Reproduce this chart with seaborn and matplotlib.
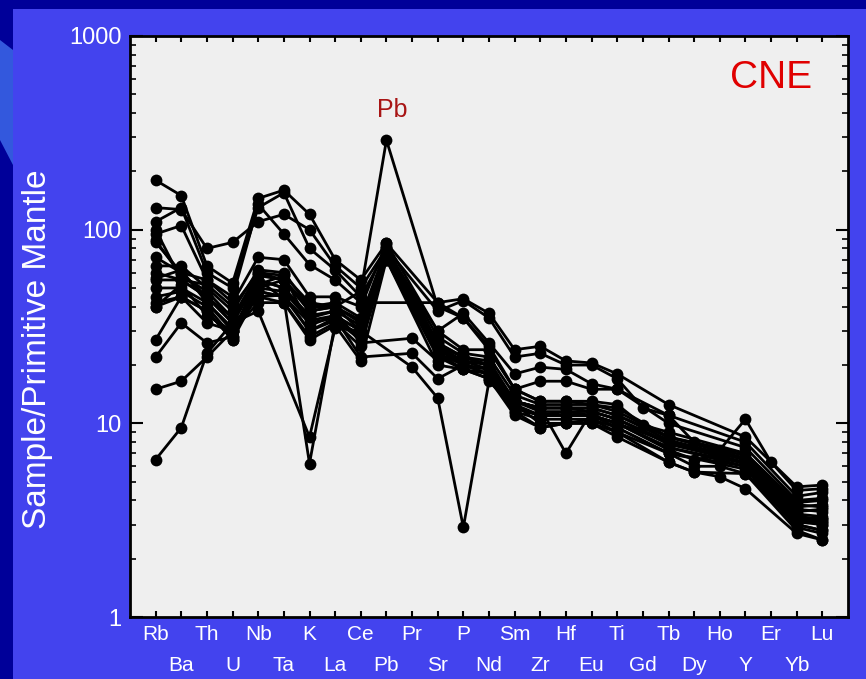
import numpy as np
import pandas as pd
import matplotlib
matplotlib.use("Agg")
import matplotlib.pyplot as plt
import seaborn as sns
from matplotlib.patches import Rectangle, Polygon
from matplotlib.ticker import LogLocator, NullFormatter

nan = np.nan
elements = ["Rb", "Ba", "Th", "U", "Nb", "Ta", "K", "La", "Ce", "Pb", "Pr", "Sr", "P", "Nd",
            "Sm", "Zr", "Hf", "Eu", "Ti", "Gd", "Tb", "Dy", "Ho", "Y", "Er", "Yb", "Lu"]

#      Rb   Ba   Th  U    Nb   Ta   K    La  Ce  Pb   Pr   Sr  P   Nd  Sm  Zr   Hf   Eu   Ti   Gd   Tb   Dy   Ho   Y    Er   Yb   Lu
U1 = [180, 150, 65, 53, 145, 160, 120, 70, 55, 85, nan, 42, 44, 37, 24, 25, 21, 20.5, 18, nan, 12.5, nan, nan, 8.5, nan, 4.7, 4.8]
U2 = [130, 127, 80, 86, 110, 120, 100, 65, 50, 80, nan, 38, 43, 35, 22, 23, 20, 20, 17, 12, 11, 8, 7.3, 10.5, 6.3, 4.5, 4.6]
U3 = [110, 130, 60, 50, 130, 155, 80, 62, 45, 78, nan, 30, 37, 26, 18, 19.5, 19, 16, 15, nan, 11, nan, nan, 8, nan, 4.2, 4.4]
U4 = [95, 105, 55, 45, 135, 95, 66, 55, 42, nan, nan, 42, 35, 24, 15, 16.5, 16.5, 15, 15, nan, 10, nan, nan, 7.5, nan, 4.0, 4.1]
M1 = [72, 60, 55, 42, 72, 70, 45, 45, 40, 85, nan, 30, 24, 24, 15, 13, 13, 13, 12.5, 9.8, 9, nan, nan, 7, nan, 3.9, 4.0]
M2 = [65, 65, 50, 38, 62, 60, 40, 42, 35, 80, nan, 28, 23, 22, 14, 12.5, 12.5, 12.5, 12, nan, 8.5, nan, nan, 6.8, nan, 3.7, 3.8]
M3 = [55, 55, 45, 33, 58, 55, 38, 40, 33, 78, nan, 26, 22, 21, 13, 12, 12, 12, 11, nan, 8.2, nan, nan, 6.5, nan, 3.5, 3.6]
M4 = [50, 50, 42, 30, 55, 50, 36, 38, 32, 75, nan, 25, 21, 20, 13, 11.5, 11.5, 11.5, 10.5, nan, 8, nan, nan, 6.5, nan, 3.4, 3.3]
M5 = [45, 48, 40, 28, 50, 48, 34, 36, 30, 75, nan, 24, 20, 19, 12, 11, 11, 11, 10, nan, 7.5, nan, nan, 6.2, nan, 3.2, 3.1]
M6 = [42, 45, 38, 27, 48, 45, 33, 35, 28, 72, nan, 23, 20, 18, 12, 11, 11, 11, 10, nan, 7.3, 6.5, 6.8, 6.2, nan, 3.1, 3.0]
M7 = [40, 52, 36, 30, 45, 46, 30, 34, 27, 70, nan, 22, 19, 18, 11.5, 10.5, 10.5, 10.5, 9.5, nan, 7, nan, nan, 6, nan, 3.0, 2.8]
M8 = [88, 58, 48, 35, 52, 58, 32, 36, 30, 82, nan, 26, 22, 20, 12.5, 10, 10, 10.5, 9, nan, 7, nan, nan, 5.8, nan, 2.9, 2.7]
M9 = [56, 62, 42, 31, 45, 42, 28, 33, 25, 72, nan, 23, 19, 17, 11.5, 9.5, 10, 10, 8.5, nan, 6.3, 5.6, nan, 5.5, nan, 2.8, 2.5]
M10 = [100, 55, 52, 40, 60, 58, 42, 40, 34, 70, nan, 25, 20, 19, 13, 12, 12, 12, 11, nan, 8.5, nan, nan, 6.6, nan, 3.6, 3.5]
S1 = [86, 60, 45, 33, 38, nan, 8.5, 31, 30, 75, nan, 24, 21, 19, 12.5, 11, 11, 11, 10, nan, 8, nan, nan, 6.5, nan, 3.3, 3.2]
S2 = [40, 45, 38, 27, 55, 44, 6.2, 33, 29, 78, nan, 25, 22, 20, 13, 12, 12, 11.5, 10.5, nan, 7.8, nan, nan, 6.3, nan, 3.3, 3.1]
S3 = [60, 55, 45, 35, 60, 55, 40, 40, 48, 290, nan, 40, 35, 25, 15, 13, 13, 12.5, 11.5, nan, 8.5, nan, nan, 7, nan, 3.8, 3.7]
S4 = [15, 16.5, 22, 30, 50, 55, 38, 40, 30, nan, 19.5, 13.5, 2.9, 16.5, 12, 11, 11, 11, 10, nan, 7.5, nan, nan, 6, nan, 3.2, 3.0]
S5 = [6.5, 9.5, 23, 33, 55, 50, 35, 38, 26, nan, 27.5, 21, 22, 20, 13, 12, 7, 11.5, 10.5, nan, 8, nan, nan, 6.2, nan, 3.3, 3.2]
S6 = [22, 33, 26, 28, 48, 45, 30, 35, 22, nan, 23, 17, 20, 18, 12, 11, 11.5, 11, 9.5, nan, 7, 6, 6, 5.5, nan, 3.0, 2.8]
S7 = [27, 45, 33, 30, 42, 42, 27, 32, 21, 70, nan, 20, 19, 17, 11, 9.5, 10, 10, 9, nan, 6.3, 5.6, 5.3, 4.6, nan, 2.7, 2.5]

samples = {"U1": U1, "U2": U2, "U3": U3, "U4": U4, "M1": M1, "M2": M2, "M3": M3, "M4": M4,
           "M5": M5, "M6": M6, "M7": M7, "M8": M8, "M9": M9, "M10": M10, "S1": S1, "S2": S2,
           "S3": S3, "S4": S4, "S5": S5, "S6": S6, "S7": S7}

rows = []
for name, vals in samples.items():
    for i, v in enumerate(vals):
        if not np.isnan(v):
            rows.append((name, i, elements[i], v))
df = pd.DataFrame(rows, columns=["sample", "pos", "element", "value"])

sns.set_theme(style="ticks")
plt.rcParams["font.family"] = ["Liberation Sans", "DejaVu Sans"]

W, H = 866, 679
fig = plt.figure(figsize=(W / 100, H / 100), dpi=100, facecolor="#4343ee")
# slide decoration
fig.patches.append(Rectangle((0, 1 - 9 / H), 1, 9 / H, transform=fig.transFigure,
                             facecolor="#000099", edgecolor="none", zorder=0))
fig.patches.append(Rectangle((0, 0), 13 / W, 1, transform=fig.transFigure,
                             facecolor="#000099", edgecolor="none", zorder=0))
fig.patches.append(Polygon([(0, 1 - 40 / H), (13 / W, 1 - 50 / H), (13 / W, 1 - 165 / H), (0, 1 - 140 / H)],
                           closed=True, transform=fig.transFigure,
                           facecolor="#3358dd", edgecolor="none", zorder=1))

ax = fig.add_axes([130 / W, 1 - 617 / H, 718 / W, 581 / H])
ax.set_facecolor("#efefef")
ax.set_yscale("log")

sns.lineplot(data=df, x="pos", y="value", units="sample", estimator=None, sort=False,
             color="black", marker="o", markersize=8.5, markeredgewidth=0,
             linewidth=2.0, legend=False, ax=ax)

ax.set_xlim(-1, 27)
ax.set_ylim(1, 1000)
ax.set_xlabel("")
ax.set_ylabel("")

ax.set_xticks(range(0, 27, 2), labels=elements[0::2])
ax.set_xticks(range(1, 27, 2), labels=elements[1::2], minor=True)
ax.tick_params(axis="x", which="both", direction="in", top=True, bottom=True, length=4, width=1.5,
               color="black", labelcolor="white", labelsize=15)
ax.tick_params(axis="x", which="major", pad=6)
ax.tick_params(axis="x", which="minor", pad=28)

ax.set_yticks([1, 10, 100, 1000], labels=["1", "10", "100", "1000"])
ax.yaxis.set_minor_locator(LogLocator(base=10, subs=np.arange(2, 10)))
ax.yaxis.set_minor_formatter(NullFormatter())
ax.tick_params(axis="y", which="major", direction="in", left=True, right=True, length=9, width=1.5,
               color="black", labelcolor="white", labelsize=17, pad=6)
ax.tick_params(axis="y", which="minor", direction="in", left=True, right=True, length=4, width=1.2,
               color="black")
for s in ax.spines.values():
    s.set_linewidth(2)
    s.set_color("black")

fig.text(38 / W, 1 - 349 / H, "Sample/Primitive Mantle", rotation=90, color="white",
         fontsize=24, ha="center", va="center")
ax.text((771 - 130) / 718, (617 - 78) / 581, "CNE", transform=ax.transAxes, color="#e00000",
        fontsize=28, ha="center", va="center")

pb_idx = elements.index("Pb")
pb_max = df[df["element"] == "Pb"]["value"].max()
ax.annotate("Pb", xy=(pb_idx, pb_max), xytext=(4, 22), textcoords="offset points",
            color="#a81515", fontsize=18, ha="center", va="center")

fig.savefig("out.png", dpi=100, facecolor=fig.get_facecolor())
